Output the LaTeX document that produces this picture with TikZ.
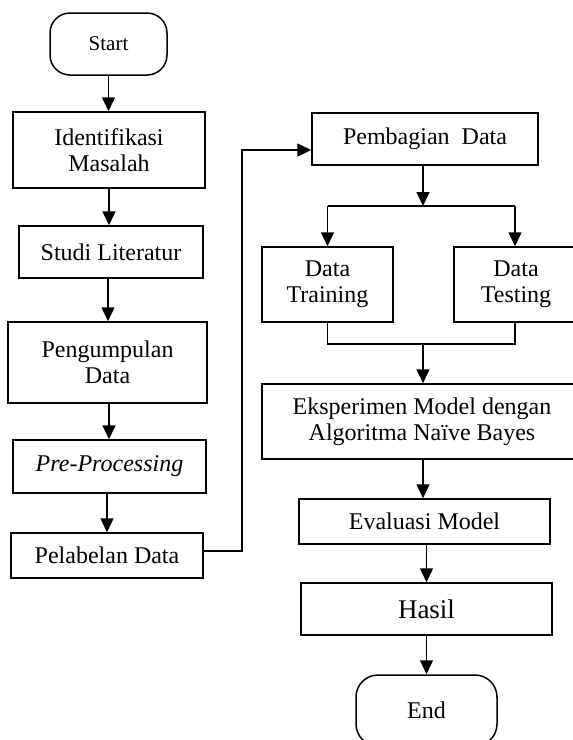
\documentclass[tikz,border=0pt]{standalone}
\usepackage{fontspec}
\setmainfont{Liberation Serif}
\usetikzlibrary{arrows.meta}
\tikzset{
  box/.style={draw, line width=1.5pt, inner sep=0pt, align=center, font=\fontsize{24}{26}\selectfont},
  term/.style={box, rounded corners=20pt},
  conn/.style={line width=1.5pt},
  arr/.style={conn, -{Triangle[width=13pt,length=14pt]}}
}
\begin{document}
\begin{tikzpicture}[x=1pt,y=-1pt]
\useasboundingbox (0,0) rectangle (573,740);
\clip (0,0) rectangle (573,740);
% left column
\node[term, minimum width=117pt, minimum height=62pt, font=\fontsize{21}{24}\selectfont] (start) at (108.5,44) {Start};
\node[box, minimum width=192pt, minimum height=76pt] (ident) at (109,150) {Identifikasi\\Masalah};
\node[box, minimum width=184pt, minimum height=52pt] (studi) at (111,252) {Studi Literatur};
\node[box, minimum width=199pt, minimum height=81pt] (peng) at (107.5,362.5) {Pengumpulan\\Data};
\node[box, minimum width=193pt, minimum height=53pt] (pre) at (109.5,466.5) {\textit{Pre-Processing}};
\node[box, minimum width=192pt, minimum height=45pt] (pel) at (107,555.5) {Pelabelan Data};
% right column
\node[box, minimum width=226pt, minimum height=52pt] (pemb) at (425,139) {Pembagian~ Data};
\node[box, minimum width=131pt, minimum height=75pt] (train) at (327.5,284.5) {Data\\Training};
\node[box, minimum width=124pt, minimum height=75pt] (test) at (516,284.5) {Data\\Testing};
\node[box, minimum width=320pt, minimum height=75pt] (eksp) at (422,421.5) {Eksperimen Model dengan\\Algoritma Naïve Bayes};
\node[box, minimum width=251pt, minimum height=45pt] (eval) at (424.5,521.5) {Evaluasi Model};
\node[box, minimum width=251pt, minimum height=52pt, font=\fontsize{27}{29}\selectfont] (hasil) at (426.5,609) {Hasil};
\node[term, minimum width=141pt, minimum height=71pt, rounded corners=22pt] (end) at (426.5,710.5) {End};
% coordinates
\coordinate (c1) at (242,551);
\coordinate (c2) at (242,150);
\coordinate (split) at (423,206);
\coordinate (sl) at (327.5,206);
\coordinate (sr) at (515,206);
\coordinate (join) at (423,344);
\coordinate (jl) at (327.5,344);
\coordinate (jr) at (515,344);
% left arrows
\draw[arr] (start.south) -- (start.south |- ident.north);
\draw[arr] (ident.south) -- (ident.south |- studi.north);
\draw[arr] ([xshift=-3pt]studi.south) -- ([xshift=-3pt]studi.south |- peng.north);
\draw[arr] ([xshift=1.5pt]peng.south) -- ([xshift=1.5pt]peng.south |- pre.north);
\draw[arr] ([xshift=-2.5pt]pre.south) -- ([xshift=-2.5pt]pre.south |- pel.north);
% link to right column
\draw[arr] (pel.east |- c1) -- (c1) -- (c2) -- (pemb.west |- c2);
% split
\draw[arr] (pemb.south -| split) -- (split);
\draw[conn] (sl) -- (sr);
\draw[arr] (sl) -- (train.north);
\draw[arr] (sr) -- (sr |- test.north);
% join
\draw[conn] (train.south) -- (jl) -- (jr) -- (jr |- test.south);
\draw[arr] (join) -- (join |- eksp.north);
\draw[arr] (eksp.south -| join) -- (join |- eval.north);
\draw[arr] (eval.south -| hasil.north) -- (hasil.north);
\draw[arr] (hasil.south) -- (end.north);
\end{tikzpicture}
\end{document}
